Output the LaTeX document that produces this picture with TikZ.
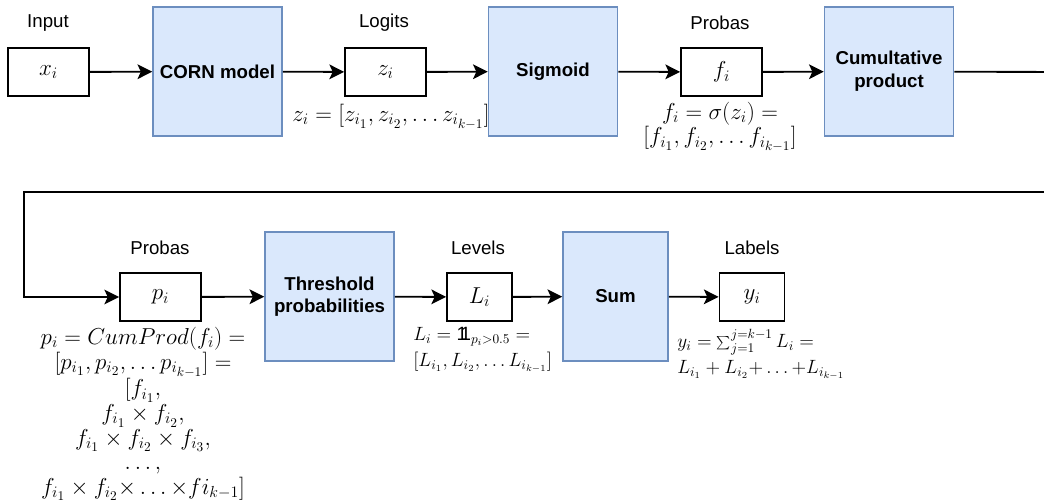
\documentclass[tikz,border=0pt]{standalone}
\usepackage{fontspec}
\setmainfont{Liberation Sans}
\usetikzlibrary{arrows.meta}
\definecolor{procfill}{HTML}{DAE8FC}
\definecolor{procline}{HTML}{6C8EBF}
\newcommand{\indicone}{\mathrm{1}\mkern-6.5mu\mathrm{1}}
\begin{document}
\begin{tikzpicture}[x=0.75pt,y=-0.75pt,
  every node/.style={font=\fontsize{14}{17}\selectfont},
  var/.style={draw, line width=1.4pt, minimum width=60.75pt, minimum height=36pt, inner sep=0pt,
    font=\fontsize{17.28}{20}\selectfont},
  proc/.style={draw=procline, fill=procfill, line width=1.2pt, minimum width=96.75pt,
    minimum height=96.75pt, inner sep=0pt, align=center, font=\fontsize{14}{17}\selectfont\bfseries},
  caplbl/.style={inner sep=0pt},
  eq/.style={inner sep=0pt, align=center, font=\fontsize{17.28}{18.4}\selectfont},
  eqsmall/.style={inner sep=0pt, align=left, font=\fontsize{14.4}{19.5}\selectfont},
  flow/.style={-{Stealth[length=11pt,width=11pt,inset=2.5pt]}, line width=1.4pt}]
\useasboundingbox (0,0) rectangle (1044,500);
% first row
\node[var] (xi) at (48.5,72) {$x_i$};
\node[proc] (corn) at (217.5,71.5) {CORN model};
\node[var] (zi) at (385.5,72) {$z_i$};
\node[eq] (zeq) at (391,117) {$z_i = [z_{i_1}, z_{i_2}, \dots z_{i_{k-1}}]$};
\node[proc] (sigmoid) at (553,71.5) {Sigmoid};
\node[var] (fi) at (721.5,72) {$f_i$};
\node[proc] (cumprod) at (889,71.5) {Cumultative\\product};
\node[caplbl] (inputlbl) at (48,23) {Input};
\node[caplbl] (logitslbl) at (384,23) {Logits};
\node[caplbl] (probaslbl) at (720,23) {Probas};
\node[eq] (feq) at (720,127) {$f_i = \sigma(z_i) =$\\$[f_{i_1}, f_{i_2}, \dots f_{i_{k-1}}]$};
% second row
\node[var] (pi) at (160.5,297) {$p_i$};
\node[proc] (thresh) at (329.5,296.5) {Threshold\\probabilities};
\node[var, minimum width=48.75pt] (Li) at (479.5,297) {$L_i$};
\node[proc, minimum width=78.75pt] (sum) at (615.5,296.5) {Sum};
\node[var, minimum width=48.75pt] (yi) at (752,297) {$y_i$};
\node[caplbl] (cumlbl) at (160,248) {Probas};
\node[caplbl] (levelslbl) at (478,248) {Levels};
\node[caplbl] (labelslbl) at (752,248) {Labels};
\node[eq, anchor=north] (peq) at (143,327) {$p_i = CumProd(f_i) =$\\$[p_{i_1}, p_{i_2}, \dots p_{i_{k-1}}] =$\\$[f_{i_1},$\\$f_{i_1} \times f_{i_2},$\\$f_{i_1} \times f_{i_2} \times f_{i_3},$\\$\dots,$\\$f_{i_1} \times f_{i_2}{\times}\ldots{\times}fi_{k-1}]$};
\node[eqsmall, anchor=north west] (Leq) at (413,327) {$L_i = \indicone_{p_i>0.5} =$\\$[L_{i_1}, L_{i_2}, \dots L_{i_{k-1}}]$};
\node[eqsmall, anchor=north west] (yeq) at (677,329) {$y_i = \sum_{j=1}^{j=k-1} L_i =$\\$L_{i_1} + L_{i_2}{+}\ldots{+}L_{i_{k-1}}$};
% wrap-around line, runs off the right edge
\coordinate (wrapA) at (1060,72);
\coordinate (wrapB) at (1060,192);
\coordinate (wrapC) at (24,192);
\coordinate (wrapD) at (24,297);
\draw[flow] (xi) -- (corn);
\draw[flow] (corn) -- (zi);
\draw[flow] (zi) -- (sigmoid);
\draw[flow] (sigmoid) -- (fi);
\draw[flow] (fi) -- (cumprod);
\draw[flow] (cumprod) -- (wrapA) -- (wrapB) -- (wrapC) -- (wrapD) -- (pi);
\draw[flow] (pi) -- (thresh);
\draw[flow] (thresh) -- (Li);
\draw[flow] (Li) -- (sum);
\draw[flow] (sum) -- (yi);
\end{tikzpicture}
\end{document}
